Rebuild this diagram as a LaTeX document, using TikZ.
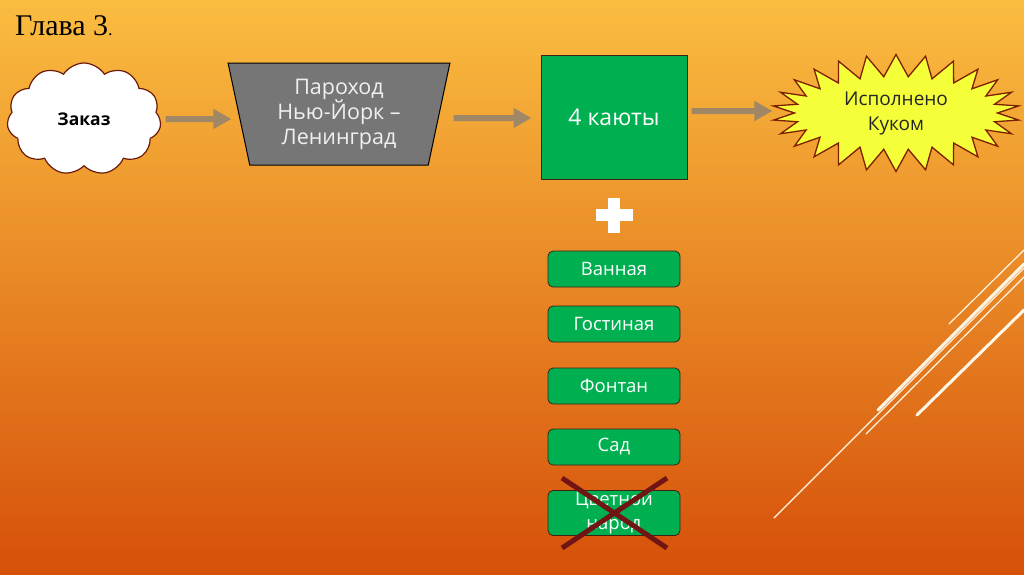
\documentclass[tikz,border=0pt]{standalone}
\usepackage{fontspec}
\setmainfont{Open Sans}
\newfontfamily\titlefont{Liberation Serif}
\usetikzlibrary{shapes.symbols,shapes.geometric,arrows.meta}
\definecolor{bgtop}{HTML}{FABD40}
\definecolor{bgmid}{HTML}{EE9528}
\definecolor{bgbot}{HTML}{D6500A}
\definecolor{boxgreen}{HTML}{00B050}
\definecolor{edgedark}{HTML}{3A2414}
\definecolor{cloudedge}{HTML}{6B1A0A}
\definecolor{arrowtan}{HTML}{A08866}
\definecolor{burstfill}{HTML}{F4FF3A}
\definecolor{burstedge}{HTML}{7F1F00}
\definecolor{trapgray}{HTML}{767676}
\definecolor{crossred}{HTML}{701414}
\definecolor{streak}{HTML}{FFF6E6}
\tikzset{
  flow/.style={draw=arrowtan, line width=6pt, -{Triangle[length=18pt,width=19pt]}},
  subbox/.style={rectangle, rounded corners=5pt, fill=boxgreen, draw=edgedark, line width=0.8pt,
    minimum width=132pt, minimum height=36pt, text=white, align=center,
    font=\fontsize{18.5}{24}\selectfont},
  thinstreak/.style={draw=streak, line width=1.2pt, line cap=round},
  thickstreak/.style={draw=streak, line width=3pt, line cap=round},
}
\begin{document}
\begin{tikzpicture}[x=1pt,y=-1pt]
\useasboundingbox (0,0) rectangle (1024,574);
\shade[top color=bgtop, middle color=bgmid, bottom color=bgbot] (0,0) rectangle (1024,574);

% title
\node[anchor=base west, inner sep=0pt, text=black] (title) at (15,35)
  {\titlefont\fontsize{30}{32}\selectfont Глава 3\fontsize{18}{20}\selectfont.};

% right streaks
\draw[thinstreak] (949,324) -- (1024,250);
\draw[thickstreak] (878,410) -- (1024,264);
\draw[thinstreak] (774,518) -- (1024,268);
\draw[thinstreak] (866,434) -- (1024,277);
\draw[thickstreak] (917,415) -- (1024,310);

% main nodes
\node[cloud, cloud puffs=11, cloud puff arc=115, cloud ignores aspect, draw=cloudedge, fill=white,
  line width=1.2pt, minimum width=154pt, minimum height=112pt, inner sep=0pt,
  font=\bfseries\fontsize{17.5}{18}\selectfont] (order) at (84,119) {Заказ};

\node[trapezium, trapezium stretches=true, shape border rotate=180,
  trapezium left angle=77.8, trapezium right angle=77.8,
  minimum width=222pt, minimum height=102pt, fill=trapgray, draw=black, line width=1pt,
  text=white!94!black, align=center, inner sep=0pt, text depth=4pt,
  font=\fontsize{21.5}{25}\selectfont] (ship) at (339,114) {Пароход\\Нью-Йорк –\\Ленинград};

\node[rectangle, fill=boxgreen, draw=edgedark, line width=1pt, minimum width=146pt,
  minimum height=124pt, text=white, font=\fontsize{23}{24}\selectfont] (cabins) at (614,117) {4 каюты};

\node[starburst, starburst points=26, starburst point height=22pt, random starburst=0,
  fill=burstfill, draw=burstedge, line width=1.3pt, minimum width=247pt, minimum height=117pt,
  align=center, text=black!85, inner sep=0pt,
  font=\fontsize{19}{25}\selectfont] (done) at (896,113) {Исполнено\\Куком};

% connectors
\draw[flow] ([xshift=5pt]order.east) -- ([xshift=-7pt,yshift=-5pt]ship.west);
\draw[flow] ([xshift=14pt,yshift=-4pt]ship.east) -- ([xshift=-9pt,yshift=-1pt]cabins.west);
\draw[flow] ([xshift=4pt,yshift=6pt]cabins.east) -- ([xshift=-20pt,yshift=2pt]done.west);

% plus sign
\fill[white] (608,198) rectangle (620,233);
\fill[white] (596,209) rectangle (633,221);

% sub boxes
\node[subbox] (bath) at (614,269) {Ванная};
\node[subbox] (living) at (614,324) {Гостиная};
\node[subbox] (fountain) at (614,386) {Фонтан};
\node[subbox] (garden) at (614,447) {Сад};
\node[subbox, minimum height=45pt, inner sep=0pt] (people) at (614,513) {Цветной\\народ};

% cross
\draw[crossred, line width=5pt] ([shift={(-52pt,35pt)}]people.center) -- ([shift={(53pt,-35pt)}]people.center);
\draw[crossred, line width=5pt] ([shift={(-52pt,-35pt)}]people.center) -- ([shift={(53pt,35pt)}]people.center);
\end{tikzpicture}
\end{document}
